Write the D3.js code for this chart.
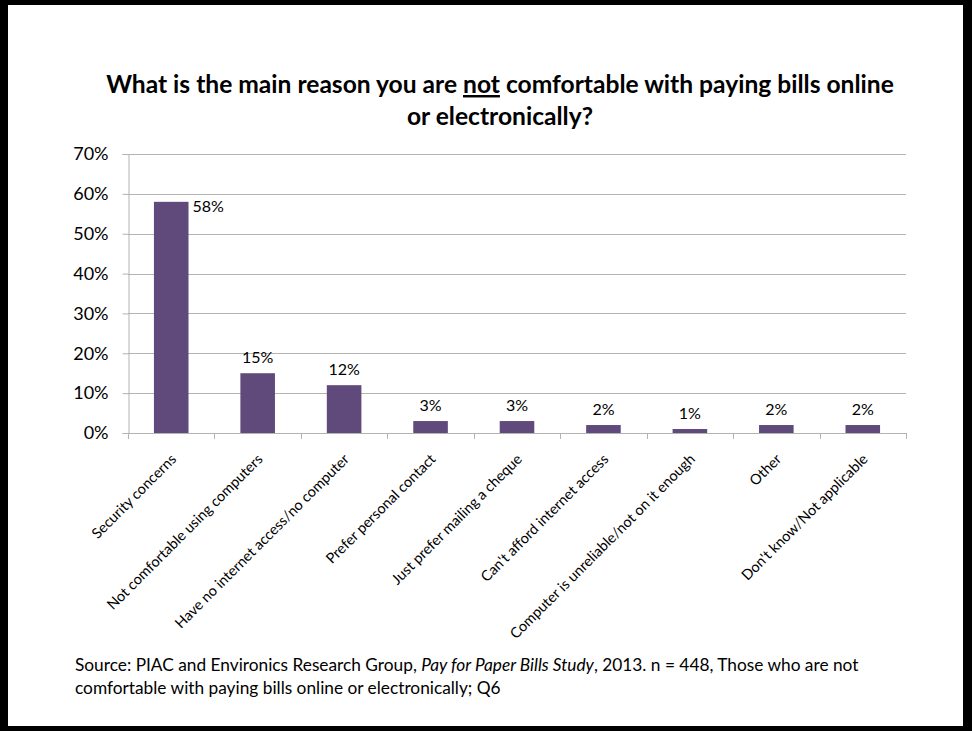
<!DOCTYPE html>
<html>
<head>
<meta charset="utf-8">
<script src="https://cdn.jsdelivr.net/npm/d3@7"></script>
<style>
  body { margin: 0; background: #000; }
  svg { display: block; }
  text { font-family: Lato, "Open Sans", sans-serif; fill: #000; }
</style>
</head>
<body>
<div id="chart"></div>
<script>
// chart values
var categories = [
  "Security concerns",
  "Not comfortable using computers",
  "Have no internet access/no computer",
  "Prefer personal contact",
  "Just prefer mailing a cheque",
  "Can't afford internet access",
  "Computer is unreliable/not on it enough",
  "Other",
  "Don't know/Not applicable"
];
var values = [0.58, 0.15, 0.12, 0.03, 0.03, 0.02, 0.01, 0.02, 0.02];
var yTicks = [0, 0.1, 0.2, 0.3, 0.4, 0.5, 0.6, 0.7];

var W = 972, H = 731;
var plot = { left: 128, right: 906, top: 154, bottom: 433 };

var svg = d3.select("#chart").append("svg")
  .attr("width", W)
  .attr("height", H);

// slide frame
svg.append("rect").attr("width", W).attr("height", H).attr("fill", "#000");
svg.append("rect")
  .attr("x", 8).attr("y", 5)
  .attr("width", 955).attr("height", 721)
  .attr("fill", "#fff");

var x = d3.scaleBand()
  .domain(categories)
  .range([plot.left, plot.right])
  .paddingInner(0.6)
  .paddingOuter(0.3);

var xOuter = d3.scaleBand()
  .domain(categories)
  .range([plot.left, plot.right]);

var y = d3.scaleLinear()
  .domain([0, 0.7])
  .range([plot.bottom, plot.top]);

// title
var title = svg.append("text")
  .attr("text-anchor", "middle")
  .style("font-weight", "bold")
  .style("font-size", "24.6px");
title.append("tspan")
  .attr("x", 500).attr("y", 93)
  .text("What is the main reason you are ");
title.append("tspan")
  .style("text-decoration", "underline")
  .text("not");
title.append("tspan")
  .text(" comfortable with paying bills online");
title.append("tspan")
  .attr("x", 500).attr("y", 125)
  .text("or electronically?");

// gridlines
svg.append("g")
  .selectAll("line")
  .data(yTicks.slice(1))
  .join("line")
  .attr("x1", plot.left).attr("x2", plot.right)
  .attr("y1", function (d) { return Math.round(y(d)) + 0.5; })
  .attr("y2", function (d) { return Math.round(y(d)) + 0.5; })
  .attr("stroke", "#b3b3b3")
  .attr("stroke-width", 1);

// y axis
var yAxis = svg.append("g")
  .attr("transform", "translate(" + (plot.left + 0.5) + ",0)")
  .call(d3.axisLeft(y).tickValues(yTicks).tickFormat(d3.format(".0%")).tickSize(6).tickPadding(14));
yAxis.select(".domain").attr("stroke", "#b3b3b3");
yAxis.selectAll(".tick line").attr("stroke", "#b3b3b3");
yAxis.selectAll(".tick text")
  .style("font-size", "18px")
  .style("font-family", "Lato, sans-serif")
  .attr("fill", "#000");

// bars
svg.append("g")
  .selectAll("rect")
  .data(values)
  .join("rect")
  .attr("x", function (d, i) { return x(categories[i]); })
  .attr("width", x.bandwidth())
  .attr("y", function (d) { return y(d); })
  .attr("height", function (d) { return y(0) - y(d); })
  .attr("fill", "#604a7b");

// x axis line + ticks at category boundaries
var xAxisG = svg.append("g");
xAxisG.append("line")
  .attr("x1", plot.left).attr("x2", plot.right)
  .attr("y1", plot.bottom + 0.5).attr("y2", plot.bottom + 0.5)
  .attr("stroke", "#b3b3b3");
xAxisG.selectAll(".xt")
  .data(categories.concat(["end"]))
  .join("line")
  .attr("class", "xt")
  .attr("x1", function (d, i) { return Math.round(plot.left + i * xOuter.step()) + 0.5; })
  .attr("x2", function (d, i) { return Math.round(plot.left + i * xOuter.step()) + 0.5; })
  .attr("y1", plot.bottom).attr("y2", plot.bottom + 6)
  .attr("stroke", "#b3b3b3");

// category labels, rotated
xAxisG.selectAll(".xl")
  .data(categories)
  .join("text")
  .attr("class", "xl")
  .attr("text-anchor", "end")
  .style("font-size", "14.5px")
  .attr("transform", function (d) {
    var cx = xOuter(d) + xOuter.bandwidth() / 2 + 6;
    return "translate(" + cx + "," + (plot.bottom + 27) + ") rotate(-45)";
  })
  .text(function (d) { return d; });

// value labels
var fmt = d3.format(".0%");
svg.append("g")
  .selectAll("text")
  .data(values)
  .join("text")
  .style("font-size", "16px")
  .attr("text-anchor", function (d, i) { return i === 0 ? "start" : "middle"; })
  .attr("x", function (d, i) {
    return i === 0 ? x(categories[i]) + x.bandwidth() + 4 : x(categories[i]) + x.bandwidth() / 2;
  })
  .attr("y", function (d, i) { return i === 0 ? y(d) + 10 : y(d) - 10; })
  .text(function (d) { return fmt(d); });

// source note
var src = svg.append("text")
  .style("font-size", "17.3px");
src.append("tspan").attr("x", 75).attr("y", 671)
  .text("Source: PIAC and Environics Research Group, ");
src.append("tspan").style("font-style", "italic").text("Pay for Paper Bills Study");
src.append("tspan").text(", 2013. n = 448, Those who are not");
src.append("tspan").attr("x", 75).attr("y", 694)
  .text("comfortable with paying bills online or electronically; Q6");
</script>
</body>
</html>
